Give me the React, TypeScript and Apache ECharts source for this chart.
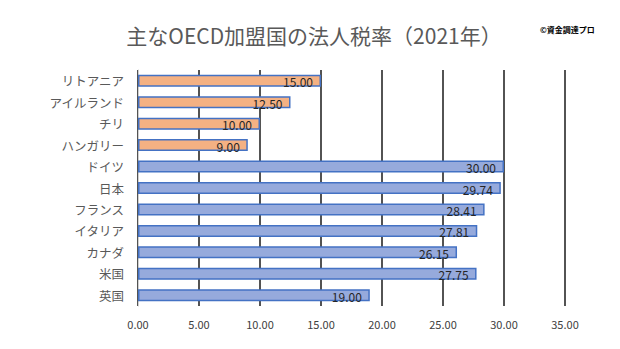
import React, { useEffect, useRef } from "react";
import * as echarts from "echarts";

const categories = ["リトアニア", "アイルランド", "チリ", "ハンガリー", "ドイツ", "日本", "フランス", "イタリア", "カナダ", "米国", "英国"];
const values = [15.0, 12.5, 10.0, 9.0, 30.0, 29.74, 28.41, 27.81, 26.15, 27.75, 19.0];
const groups = ["orange", "orange", "orange", "orange", "blue", "blue", "blue", "blue", "blue", "blue", "blue"];
const xTicks = [0, 5, 10, 15, 20, 25, 30, 35];

const FONT = "'Noto Sans CJK JP', sans-serif";

export default function App() {
  const ref = useRef<HTMLDivElement>(null);
  useEffect(() => {
    if (!ref.current) return;
    const chart = echarts.init(ref.current, undefined, { renderer: "svg" });
    chart.setOption({
      animation: false,
      backgroundColor: "#ffffff",
      title: {
        text: "主なOECD加盟国の法人税率（2021年）",
        left: 309,
        textAlign: "center",
        top: 19,
        textStyle: { fontFamily: FONT, fontSize: 21, fontWeight: "normal", color: "#595959" },
      },
      graphic: [
        {
          type: "text",
          left: 540,
          top: 25,
          style: { text: "©資金調達プロ", font: `bold 8px ${FONT}`, fill: "#000" },
        },
      ],
      grid: { left: 138, right: 55, top: 70, height: 236 },
      xAxis: {
        type: "value",
        min: xTicks[0],
        max: xTicks[xTicks.length - 1],
        interval: 5,
        axisLine: { show: false },
        axisTick: { show: false },
        splitLine: { show: true, lineStyle: { color: "#1a1a1a", width: 1.5 } },
        axisLabel: {
          formatter: (v: number) => v.toFixed(2),
          fontFamily: FONT,
          fontSize: 11,
          color: "#404040",
          margin: 12,
        },
      },
      yAxis: {
        type: "category",
        data: categories,
        inverse: true,
        axisLine: { show: true, lineStyle: { color: "#d0d0d0", width: 1 } },
        axisTick: { show: false },
        axisLabel: { fontFamily: FONT, fontSize: 12.5, color: "#595959", margin: 14 },
      },
      series: [
        {
          type: "bar",
          barWidth: 12,
          data: values.map((v, i) => ({
            value: v,
            itemStyle: {
              color: groups[i] === "orange" ? "#F4B183" : "#96AADC",
              borderColor: "#4472C4",
              borderWidth: 1.5,
            },
          })),
          label: {
            show: true,
            position: "insideRight",
            offset: [0, 1],
            distance: 8,
            formatter: (p: any) => Number(p.value).toFixed(2),
            fontFamily: FONT,
            fontSize: 12,
            color: "#262626",
          },
        },
      ],
    });
    return () => chart.dispose();
  }, []);
  return <div ref={ref} style={{ position: "fixed", left: 0, top: 0, width: 620, height: 349 }} />;
}
